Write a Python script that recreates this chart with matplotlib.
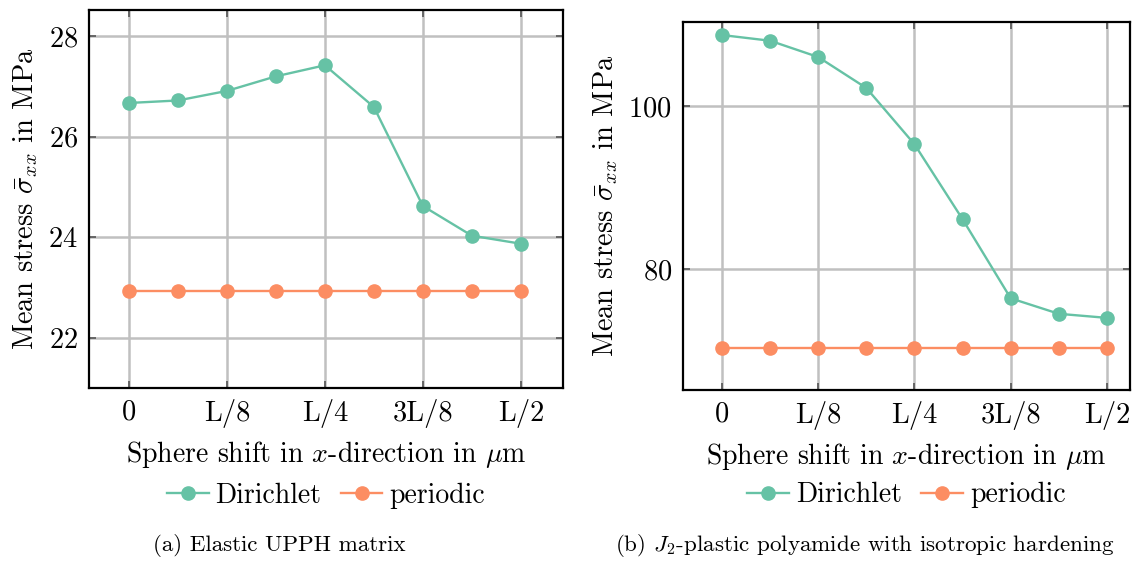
import numpy as np
import matplotlib
matplotlib.use("Agg")
import matplotlib.pyplot as plt

plt.rcParams['font.family'] = 'serif'
plt.rcParams['font.serif'] = ['cmr10']
plt.rcParams['mathtext.fontset'] = 'cm'
plt.rcParams['axes.unicode_minus'] = False
plt.rcParams['axes.formatter.use_mathtext'] = True

# shift positions in units of L/16
shift = [0, 1, 2, 3, 4, 5, 6, 7, 8]
tick_pos = [0, 2, 4, 6, 8]
tick_labels = ['0', 'L/8', 'L/4', '3L/8', 'L/2']

# (a) elastic matrix
elastic_dirichlet = [26.67, 26.72, 26.91, 27.20, 27.42, 26.59, 24.62, 24.03, 23.87]
elastic_periodic = [22.93] * 9

# (b) J2-plastic polyamide
plastic_dirichlet = [108.7, 108.0, 106.0, 102.2, 95.3, 86.1, 76.4, 74.5, 74.0]
plastic_periodic = [70.3] * 9

green = '#66c2a5'
orange = '#fc8d62'

fig = plt.figure(figsize=(11.35, 5.61), dpi=100)
ax1 = fig.add_axes([0.0784, 0.3084, 0.4176, 0.6738])
ax2 = fig.add_axes([0.6018, 0.3048, 0.3938, 0.6560])


def draw(ax, dirichlet, periodic, ylim, yticks, xlim):
    ax.plot(shift, dirichlet, '-o', color=green, lw=1.7, ms=9.5, label='Dirichlet', zorder=3)
    ax.plot(shift, periodic, '-o', color=orange, lw=1.7, ms=9.5, label='periodic', zorder=3)
    ax.set_xlim(*xlim)
    ax.set_ylim(*ylim)
    ax.set_xticks(tick_pos)
    ax.set_xticklabels(tick_labels)
    ax.set_yticks(yticks)
    ax.grid(True, color='#c0c0c0', lw=1.8)
    ax.set_axisbelow(True)
    ax.tick_params(direction='in', length=5, width=1.2, color='#555555',
                   top=True, right=True, labelsize=20.5, pad=8)
    for s in ax.spines.values():
        s.set_linewidth(1.6)
    ax.set_ylabel(r'Mean stress $\bar{\sigma}_{xx}$ in MPa', fontsize=20.5, labelpad=6)
    ax.set_xlabel(r'Sphere shift in $x$-direction in $\mu$m', fontsize=20, labelpad=8)
    ax.legend(loc='upper center', bbox_to_anchor=(0.5, -0.25), ncol=2, frameon=False,
              fontsize=20, handlelength=1.5, handletextpad=0.25, columnspacing=0.7,
              borderaxespad=0, borderpad=0)


draw(ax1, elastic_dirichlet, elastic_periodic, (21.0, 28.52), [22, 24, 26, 28], (-0.816, 8.86))
draw(ax2, plastic_dirichlet, plastic_periodic, (65.15, 110.3), [80, 100], (-0.81, 8.48))

fig.text(0.246, 0.027, '(a) Elastic UPPH matrix', fontsize=16.6, ha='center', va='center')
fig.text(0.762, 0.027, r'(b) $J_2$-plastic polyamide with isotropic hardening',
         fontsize=16.6, ha='center', va='center')

fig.savefig('out.png', dpi=100)
